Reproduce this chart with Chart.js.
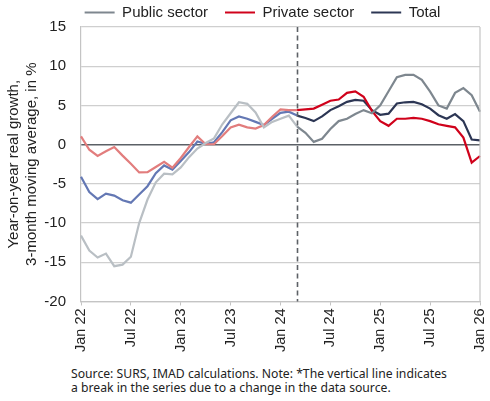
<!DOCTYPE html>
<html>
<head>
<meta charset="utf-8">
<script src="https://cdn.jsdelivr.net/npm/chart.js@4/dist/chart.umd.min.js"></script>
<style>
  html, body { margin: 0; padding: 0; background: #fff; }
  #wrap { position: relative; width: 490px; height: 355px; }
  #note {
    position: absolute; left: 71px; top: 367px;
    font: 12.2px "Noto Sans", sans-serif; color: #222; line-height: 13.8px;
    white-space: nowrap;
  }
</style>
</head>
<body>
<div id="wrap"><canvas id="chart"></canvas></div>
<div id="note">Source: SURS, IMAD calculations. Note: *The vertical line indicates<br>a break in the series due to a change in the data source.</div>
<script>
const monthNames = ["Jan", "Feb", "Mar", "Apr", "May", "Jun", "Jul", "Aug", "Sep", "Oct", "Nov", "Dec"];
const years = ["22", "23", "24", "25", "26"];
const tickLabels = ["Jan 22", "Jul 22", "Jan 23", "Jul 23", "Jan 24", "Jul 24", "Jan 25", "Jul 25", "Jan 26"];
const breakLabel = "Mar 24"; // start of the new data source

const publicSector = [
  -11.6, -13.5, -14.4, -13.9, -15.5, -15.3, -14.3, -10.0, -7.0, -4.8,
  -3.7, -3.8, -2.9, -1.6, -0.5, 0.2, 0.8, 2.6, 4.0, 5.4,
  5.2, 4.1, 2.2, 2.9, 3.3, 3.7, 2.3, 1.5, 0.35, 0.75,
  2.0, 3.0, 3.3, 3.9, 4.4, 4.0, 5.0, 6.8, 8.6, 8.9,
  8.9, 8.25, 6.75, 5.0, 4.6, 6.6, 7.2, 6.3, 4.2
];
const privateSector = [
  1.05, -0.65, -1.45, -0.85, -0.3, -1.4, -2.45, -3.55, -3.5, -2.85,
  -2.2, -2.95, -1.7, -0.3, 1.05, 0.05, 0.05, 1.1, 2.2, 2.55,
  2.2, 2.05, 2.5, 3.55, 4.5, 4.4, 4.4, 4.5, 4.6, 5.1,
  5.6, 5.75, 6.6, 6.8, 6.1, 4.3, 3.0, 2.4, 3.3, 3.3,
  3.4, 3.3, 3.0, 2.6, 2.4, 2.2, 0.9, -2.3, -1.45
];
const total = [
  -4.1, -6.05, -6.95, -6.25, -6.5, -7.1, -7.4, -6.35, -5.3, -3.65,
  -2.65, -3.2, -2.1, -0.95, 0.4, 0.1, 0.3, 1.6, 3.1, 3.6,
  3.3, 2.9, 2.5, 3.3, 4.05, 4.2, 3.7, 3.4, 3.0, 3.6,
  4.4, 4.9, 5.45, 5.7, 5.6, 4.4, 3.8, 3.95, 5.25, 5.4,
  5.45, 5.15, 4.6, 3.75, 3.3, 3.9, 3.0, 0.65, 0.55
];

// months Jan 22 .. Jan 26
const months = [];
years.forEach((y) => monthNames.forEach((m) => months.push(`${m} ${y}`)));
months.length = 49;
const breakIdx = months.indexOf(breakLabel);

const series = [
  { label: "Public sector", data: publicSector, color: "#7e878f", faded: "#b9bfc4" },
  { label: "Private sector", data: privateSector, color: "#d0021b", faded: "#e27d7d" },
  { label: "Total", data: total, color: "#2c3654", faded: "#6478b4" },
];

const font = "'Liberation Sans', Arial, sans-serif";

const frame = {
  id: "frame",
  afterLayout(chart) {
    // legend sits a bit right of the canvas centre
    chart.legend.left += 20;
    chart.legend.right += 20;
  },
  afterDatasetsDraw(chart) {
    const { ctx, chartArea: a, scales } = chart;
    ctx.save();
    ctx.strokeStyle = "#c4c4c4";
    ctx.lineWidth = 1.2;
    ctx.beginPath();
    ctx.moveTo(a.right, a.top);
    ctx.lineTo(a.right, a.bottom);
    ctx.stroke();
    const x = Math.round(scales.x.getPixelForValue(breakIdx)) + 0.5;
    ctx.strokeStyle = "#5d6166";
    ctx.lineWidth = 1.6;
    ctx.setLineDash([5, 3.5]);
    ctx.beginPath();
    ctx.moveTo(x, a.top);
    ctx.lineTo(x, a.bottom);
    ctx.stroke();
    ctx.restore();
  },
};

new Chart(document.getElementById("chart"), {
  type: "line",
  data: {
    labels: months,
    datasets: series.map((s) => ({
      label: s.label,
      data: s.data,
      borderColor: s.color,
      backgroundColor: s.color,
      borderWidth: 2.2,
      pointRadius: 0,
      tension: 0,
      segment: { borderColor: (c) => (c.p0DataIndex < breakIdx ? s.faded : s.color) },
    })),
  },
  options: {
    responsive: true,
    maintainAspectRatio: false,
    animation: false,
    layout: { padding: { left: 5, right: 10, top: -12, bottom: 0 } },
    plugins: {
      tooltip: { enabled: false },
      legend: {
        position: "top",
        maxHeight: 39,
        labels: {
          boxWidth: 30,
          boxHeight: 2,
          padding: 17,
          color: "#222",
          font: { family: font, size: 15 },
          generateLabels: (chart) =>
            Chart.defaults.plugins.legend.labels.generateLabels(chart).map((l) => ({ ...l, lineWidth: 0 })),
        },
      },
    },
    scales: {
      x: {
        type: "category",
        offset: false,
        border: { color: "#c4c4c4", width: 1.2 },
        afterFit: (axis) => { axis.paddingLeft = 0; axis.paddingRight = 0; },
        grid: {
          drawOnChartArea: false,
          tickLength: 4,
          tickColor: (c) => (tickLabels.includes(months[c.index]) ? "#c4c4c4" : "rgba(0,0,0,0)"),
        },
        ticks: {
          autoSkip: false,
          minRotation: 90,
          maxRotation: 90,
          padding: 3,
          color: "#222",
          font: { family: font, size: 14.5 },
          callback: (v, i) => (tickLabels.includes(months[i]) ? months[i] : ""),
        },
      },
      y: {
        min: -20,
        max: 15,
        border: { color: "#c4c4c4", width: 1.2 },
        afterFit: (axis) => { axis.width = 76; },
        grid: {
          color: (c) => (c.tick && c.tick.value === 0 ? "#5b6066" : "#cfcfcf"),
          lineWidth: (c) => (c.tick && c.tick.value === 0 ? 1.6 : 1.2),
          drawTicks: false,
        },
        ticks: {
          stepSize: 5,
          padding: 15,
          color: "#222",
          font: { family: font, size: 15 },
        },
        title: {
          display: true,
          text: ["Year-on-year real growth,", "3-month moving average, in %"],
          color: "#222",
          padding: { top: 0, bottom: 2 },
          font: { family: font, size: 15, lineHeight: 1.2 },
        },
      },
    },
  },
  plugins: [frame],
});
</script>
</body>
</html>
